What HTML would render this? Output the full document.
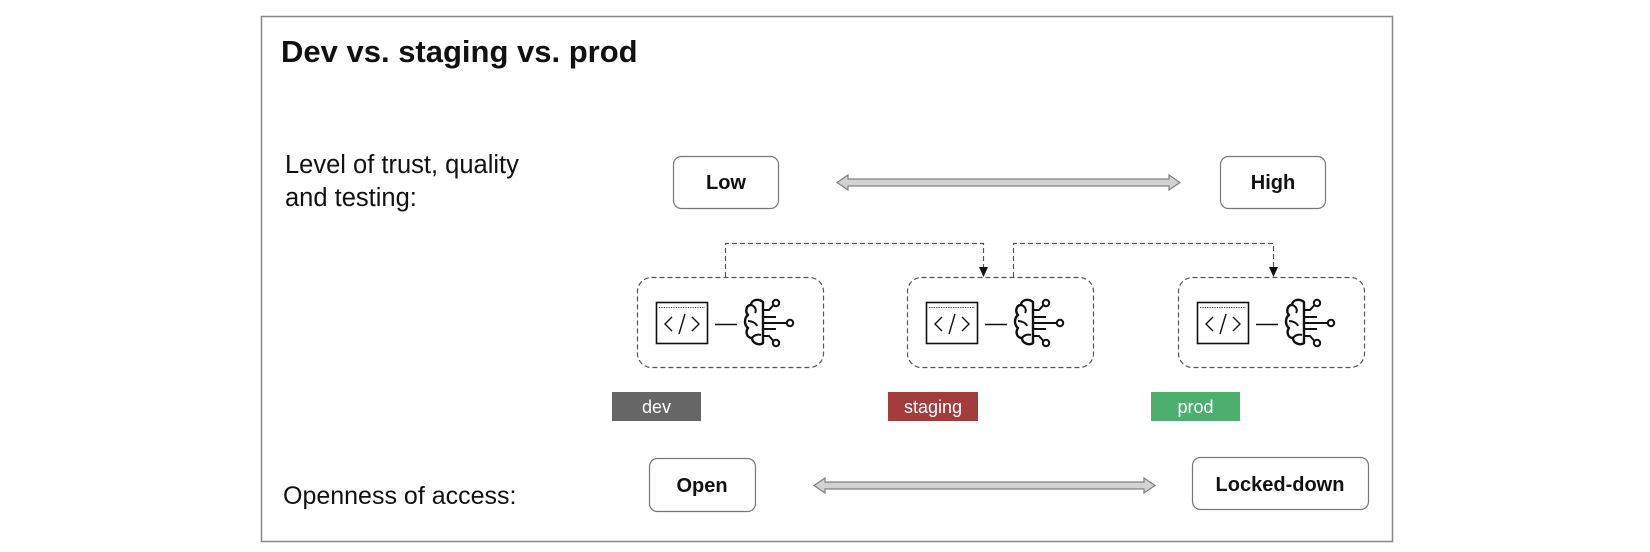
<!DOCTYPE html>
<html><head><meta charset="utf-8"><style>
html,body{margin:0;padding:0;background:#fff}
svg{display:block}
text{font-family:"Liberation Sans",sans-serif}
</style></head><body>
<svg width="1650" height="552" viewBox="0 0 1650 552" xmlns="http://www.w3.org/2000/svg">
<defs>
<g id="mod">
  <rect x="656.5" y="302.5" width="51" height="41" fill="#fff" stroke="#111" stroke-width="1.6"/>
  <line x1="659" y1="307.5" x2="705" y2="307.5" stroke="#333" stroke-width="1" stroke-dasharray="1.2 1.2"/>
  <path d="M672 317 L665 324 L672 331" fill="none" stroke="#111" stroke-width="1.4"/>
  <path d="M685 314 L679 334" fill="none" stroke="#111" stroke-width="1.4"/>
  <path d="M692 317 L699 324 L692 331" fill="none" stroke="#111" stroke-width="1.4"/>
  <line x1="715" y1="324.5" x2="737" y2="324.5" stroke="#111" stroke-width="1.4"/>
  <path d="M763 302 C758 298 751 300 751 305 C746 305 745 312 748 315 C744 318 744 325 748 328 C745 332 747 338 752 338 C752 343 759 346 763 343 Z" fill="none" stroke="#111" stroke-width="2.4" stroke-linejoin="round"/>
  <path d="M751 305 C755 306 757 310 755 313 M748 321 C752 321 756 323 757 326 M752 338 C754 335 758 334 761 335" fill="none" stroke="#111" stroke-width="2"/>
  <path d="M763 310 L769 310 L773 305.5 M763 317 L776 317 M763 323 L787 323 M763 329 L776 329 M763 336 L769 336 L773 340.5" fill="none" stroke="#111" stroke-width="2"/>
  <circle cx="776" cy="303" r="3.2" fill="#fff" stroke="#111" stroke-width="2"/>
  <circle cx="790" cy="323" r="3.2" fill="#fff" stroke="#111" stroke-width="2"/>
  <circle cx="776" cy="343" r="3.2" fill="#fff" stroke="#111" stroke-width="2"/>
</g>
</defs>

<rect x="261.5" y="16.5" width="1131" height="525" fill="#fff" stroke="#888" stroke-width="1.5"/>

<text x="281" y="62" font-size="31" font-weight="bold" fill="#111">Dev vs. staging vs. prod</text>

<text x="285" y="173" font-size="25.5" fill="#111">Level of trust, quality</text>
<text x="285" y="206" font-size="25.5" fill="#111">and testing:</text>
<text x="283" y="504" font-size="25" fill="#111">Openness of access:</text>

<rect x="673.5" y="156.5" width="105" height="52" rx="8" fill="#fff" stroke="#777" stroke-width="1.2"/>
<text x="726" y="189" font-size="20" font-weight="bold" text-anchor="middle" fill="#111">Low</text>
<rect x="1220.5" y="156.5" width="105" height="52" rx="8" fill="#fff" stroke="#777" stroke-width="1.2"/>
<text x="1273" y="189" font-size="20" font-weight="bold" text-anchor="middle" fill="#111">High</text>

<path d="M837 182.5 L848 175 L848 179 L1169 179 L1169 175 L1180 182.5 L1169 190 L1169 186 L848 186 L848 190 Z" fill="#d2d2d2" stroke="#808080" stroke-width="1.2"/>

<rect x="649.5" y="458.5" width="106" height="53" rx="8" fill="#fff" stroke="#777" stroke-width="1.2"/>
<text x="702" y="492" font-size="20" font-weight="bold" text-anchor="middle" fill="#111">Open</text>
<rect x="1192.5" y="457.5" width="176" height="52" rx="8" fill="#fff" stroke="#777" stroke-width="1.2"/>
<text x="1280" y="491" font-size="20" font-weight="bold" text-anchor="middle" fill="#111">Locked-down</text>

<path d="M814 485.5 L825 478 L825 482 L1144 482 L1144 478 L1155 485.5 L1144 493 L1144 489 L825 489 L825 493 Z" fill="#d2d2d2" stroke="#808080" stroke-width="1.2"/>

<g fill="none" stroke="#555" stroke-width="1.2" stroke-dasharray="5 3">
  <rect x="637.5" y="277.5" width="186" height="90" rx="14"/>
  <rect x="907.5" y="277.5" width="186" height="90" rx="14"/>
  <rect x="1178.5" y="277.5" width="186" height="90" rx="14"/>
  <path d="M725.5 277 L725.5 243.5 L983.5 243.5 L983.5 268"/>
  <path d="M1013.5 277 L1013.5 243.5 L1273.5 243.5 L1273.5 268"/>
</g>
<path d="M979 267 L988 267 L983.5 277 Z" fill="#111"/>
<path d="M1269 267 L1278 267 L1273.5 277 Z" fill="#111"/>

<use href="#mod"/>
<use href="#mod" transform="translate(270,0)"/>
<use href="#mod" transform="translate(541,0)"/>

<rect x="612" y="392" width="89" height="29" fill="#666"/>
<text x="656.5" y="413" font-size="18" text-anchor="middle" fill="#fff">dev</text>
<rect x="888" y="392" width="90" height="29" fill="#a33c3c"/>
<text x="933" y="413" font-size="18" text-anchor="middle" fill="#fff">staging</text>
<rect x="1151" y="392" width="89" height="29" fill="#4caf70"/>
<text x="1195.5" y="413" font-size="18" text-anchor="middle" fill="#fff">prod</text>
</svg>
</body></html>
